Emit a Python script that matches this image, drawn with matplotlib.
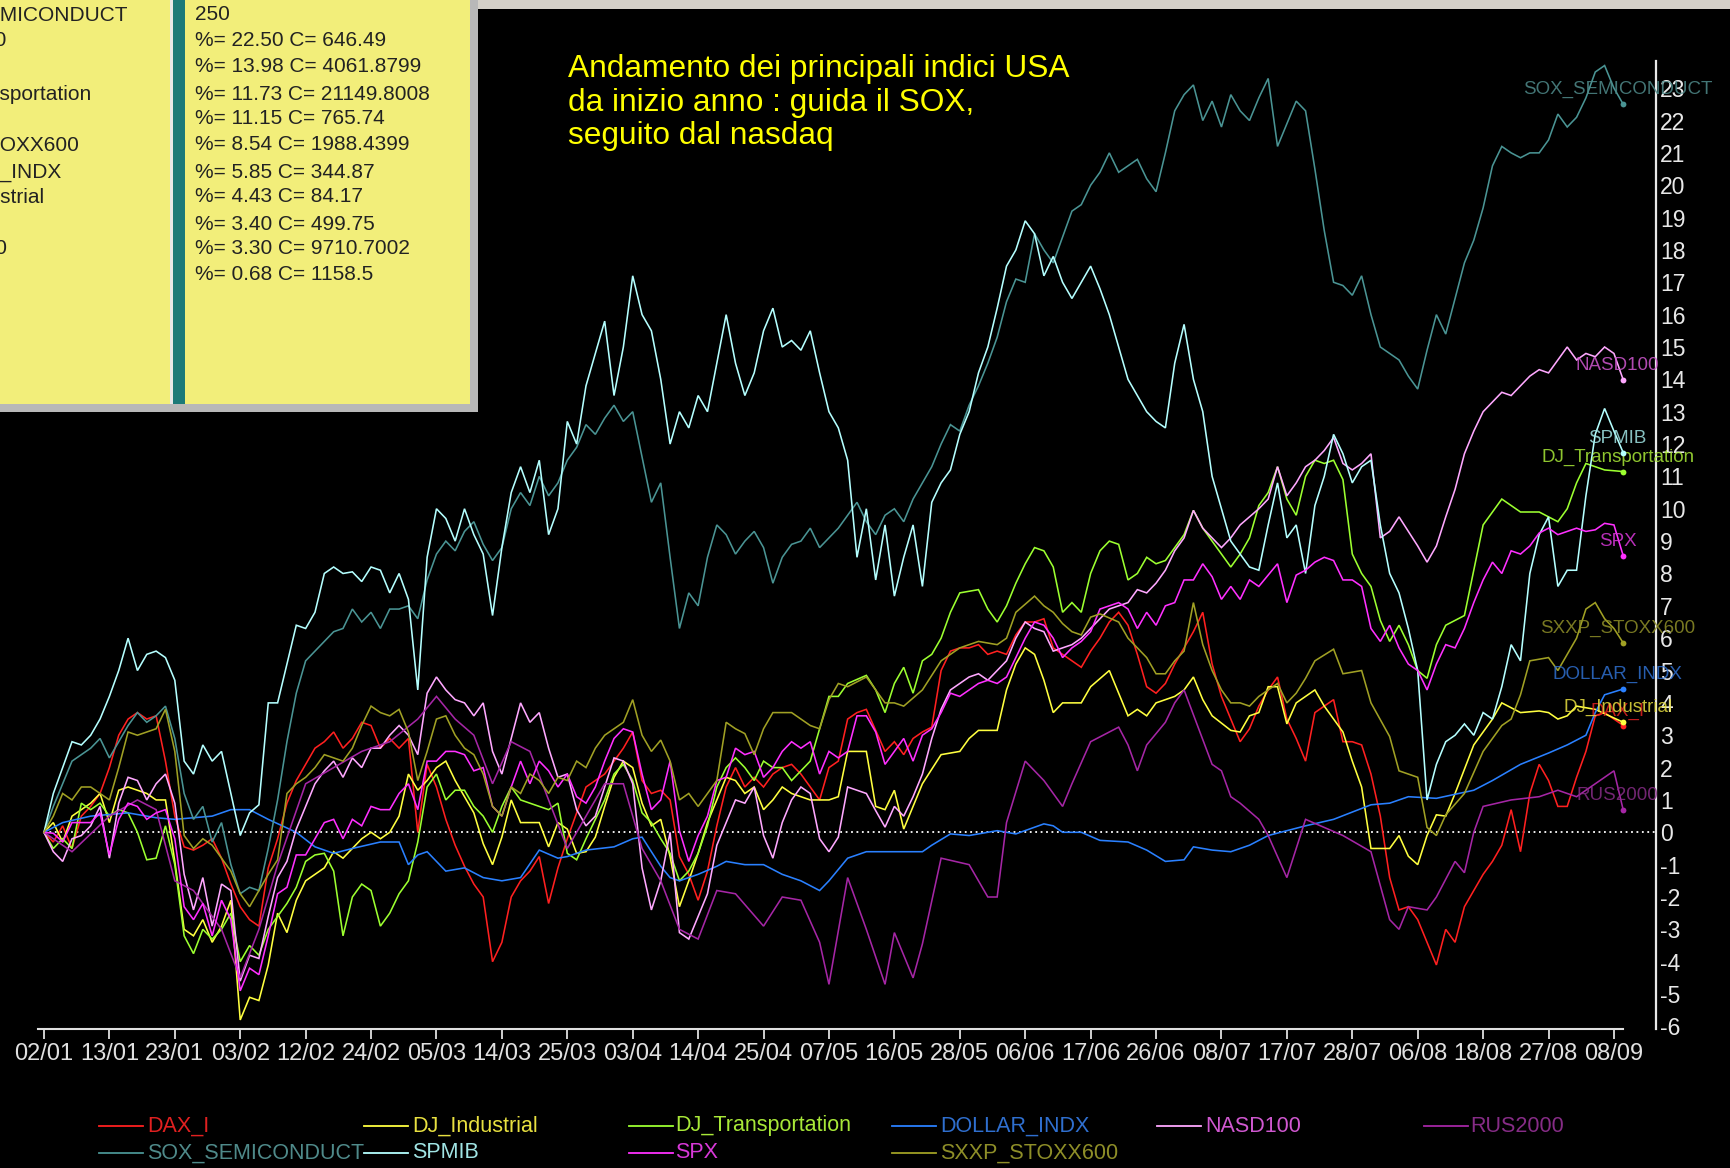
import matplotlib
matplotlib.use('Agg')
import matplotlib.pyplot as plt
from matplotlib.patches import Rectangle
from matplotlib.lines import Line2D
from matplotlib import font_manager as fm

# ---------------- data (trading-day index, % change since 02/01) ----------------
tick_labels = ['02/01', '13/01', '23/01', '03/02', '12/02', '24/02', '05/03', '14/03', '25/03',
               '03/04', '14/04', '25/04', '07/05', '16/05', '28/05', '06/06', '17/06', '26/06',
               '08/07', '17/07', '28/07', '06/08', '18/08', '27/08', '08/09']
tick_step = 7

dax = [(0,0),(1,-0.3),(2,0.2),(3,-0.5),(4,0.5),(5,0.8),(6,1.2),(7,2.0),(8,3.0),(9,3.5),(10,3.7),(11,3.5),(12,3.6),(13,2.2),(14,0.5),(15,-0.45),(16,-0.55),(17,-0.4),(18,-0.2),(19,-0.8),(20,-1.6),(21,-2.3),(22,-2.7),(23,-2.9),(24,-1.1),(25,-0.2),(26,0.9),(27,1.6),(28,2.1),(29,2.6),(30,2.8),(31,3.1),(32,2.6),(33,2.9),(34,3.4),(35,3.3),(36,2.6),(37,2.9),(38,2.6),(39,2.9),(40,0.0),(41,2.1),(42,1.4),(43,0.4),(44,-0.4),(45,-1.05),(46,-1.6),(47,-2.0),(48,-4.0),(49,-3.4),(50,-2.0),(51,-1.5),(52,-1.2),(53,-0.75),(54,-2.2),(55,-1.1),(56,-0.2),(57,0.6),(58,1.4),(59,1.6),(60,1.8),(61,2.2),(62,2.6),(63,3.1),(64,1.6),(65,1.2),(66,1.3),(67,1.0),(68,-0.75),(69,-1.3),(70,-2.1),(71,-1.2),(72,0.2),(73,1.4),(74,2.0),(75,1.4),(76,1.7),(77,1.4),(78,1.8),(79,2.0),(80,2.1),(81,1.8),(82,1.4),(83,1.0),(84,2.0),(85,2.2),(86,3.5),(87,3.7),(88,3.8),(89,3.15),(90,2.5),(91,2.8),(92,2.4),(93,2.9),(94,3.1),(95,3.25),(96,5.0),(97,5.6),(98,5.7),(99,5.7),(100,5.8),(101,5.5),(102,5.6),(103,5.5),(104,6.1),(105,6.5),(106,6.5),(107,6.6),(108,5.7),(109,5.5),(110,5.3),(111,5.1),(112,5.6),(113,6.0),(114,6.5),(115,6.8),(116,6.4),(117,5.5),(118,4.5),(119,4.3),(120,4.6),(121,5.2),(122,5.7),(123,6.2),(124,6.8),(125,5.2),(126,4.2),(127,3.5),(128,2.8),(129,3.2),(130,3.9),(131,4.4),(132,4.8),(133,3.5),(134,2.9),(135,2.2),(136,3.7),(137,3.9),(138,4.1),(139,2.8),(140,2.8),(141,2.7),(142,1.8),(143,0.5),(144,-1.4),(145,-2.4),(146,-2.3),(147,-2.7),(148,-3.4),(149,-4.1),(150,-3.0),(151,-3.4),(152,-2.3),(153,-1.8),(154,-1.3),(155,-0.9),(156,-0.4),(157,0.7),(158,-0.6),(159,1.2),(160,2.1),(161,1.6),(162,0.8),(163,0.8),(164,1.7),(165,2.5),(166,3.6),(167,3.7),(168,3.5),(169,3.30)]

dj_ind = [(0,0),(1,0.3),(2,-0.3),(3,0.5),(4,0.7),(5,0.9),(6,1.2),(7,0.3),(8,1.3),(9,1.4),(10,1.3),(11,1.2),(12,1.0),(13,1.0),(14,-0.9),(15,-3.0),(16,-3.2),(17,-2.7),(18,-3.4),(19,-2.9),(20,-2.1),(21,-5.8),(22,-5.1),(23,-5.2),(24,-4.1),(25,-2.5),(26,-3.1),(27,-2.1),(28,-1.5),(29,-1.3),(30,-1.1),(31,-0.6),(32,-0.8),(33,-0.5),(34,-0.2),(35,0.0),(36,-0.2),(37,0.0),(38,0.5),(39,1.8),(40,1.3),(41,1.6),(42,2.0),(43,2.2),(44,1.6),(46,0.6),(47,-0.35),(48,-1.0),(49,-0.15),(50,1.0),(51,0.3),(53,0.3),(54,-0.45),(55,0.3),(56,0.1),(57,-0.65),(58,-0.6),(59,-0.15),(60,0.8),(61,1.7),(62,2.2),(63,2.0),(64,0.9),(65,0.2),(66,0.4),(67,-0.75),(68,-2.3),(69,-1.5),(70,-0.65),(71,0.3),(72,1.0),(73,1.7),(74,1.6),(75,1.2),(76,1.4),(77,0.7),(78,1.0),(79,1.4),(80,1.2),(82,1.0),(84,1.0),(85,1.1),(86,2.5),(88,2.5),(89,0.8),(90,0.7),(91,1.3),(92,0.1),(93,0.8),(94,1.5),(96,2.4),(98,2.5),(99,2.9),(100,3.15),(102,3.15),(103,4.4),(104,5.2),(105,5.7),(106,5.5),(107,4.7),(108,3.7),(109,4.0),(111,4.0),(112,4.5),(114,5.0),(115,4.3),(116,3.6),(117,3.8),(118,3.6),(119,4.0),(121,4.2),(122,4.4),(123,4.8),(124,4.1),(125,3.6),(127,3.15),(128,3.1),(129,3.6),(130,3.7),(131,4.5),(132,4.5),(133,3.35),(134,4.0),(136,4.4),(137,3.9),(139,3.1),(140,2.2),(141,1.4),(142,-0.5),(144,-0.5),(145,-0.1),(146,-0.74),(147,-1.0),(148,-0.1),(149,0.54),(150,0.5),(151,1.2),(152,1.95),(153,2.7),(155,3.5),(156,4.0),(158,3.7),(160,3.75),(161,3.7),(162,3.5),(163,3.6),(164,3.9),(166,3.8),(169,3.40)]

dj_trans = [(0,0),(1,-0.5),(2,-0.2),(3,-0.5),(4,0.9),(5,0.7),(6,0.9),(7,0.5),(8,0.7),(9,0.6),(10,0.0),(11,-0.85),(12,-0.8),(13,0.2),(14,-1.0),(15,-3.2),(16,-3.75),(17,-3.0),(18,-3.3),(19,-3.0),(20,-2.5),(21,-4.0),(22,-3.5),(23,-3.8),(24,-3.0),(25,-2.6),(26,-2.2),(27,-1.7),(28,-0.9),(29,-0.7),(30,-0.65),(31,-1.2),(32,-3.2),(33,-2.0),(34,-1.6),(35,-1.8),(36,-2.9),(37,-2.5),(38,-1.9),(39,-1.5),(40,-0.3),(41,1.4),(42,1.8),(43,1.0),(44,1.3),(45,1.3),(46,0.8),(47,0.5),(48,0.0),(49,0.8),(50,1.4),(51,1.0),(53,0.8),(54,0.7),(55,0.9),(56,-0.65),(57,-0.85),(58,-0.2),(59,0.4),(60,1.0),(61,1.8),(62,2.1),(63,1.6),(64,0.6),(65,0.3),(66,-0.2),(67,-0.65),(68,-1.5),(69,-1.2),(70,-0.65),(71,0.2),(72,1.4),(73,2.0),(74,2.3),(75,2.0),(76,1.6),(77,2.2),(78,2.0),(79,2.0),(80,1.6),(82,2.2),(83,3.2),(84,4.2),(85,4.2),(86,4.6),(88,4.85),(89,4.4),(90,3.7),(91,4.6),(92,5.1),(93,4.3),(94,5.3),(95,5.5),(96,6.0),(97,6.8),(98,7.4),(100,7.5),(101,6.9),(102,6.5),(103,7.0),(104,7.7),(105,8.3),(106,8.8),(107,8.7),(108,8.2),(109,6.8),(110,7.1),(111,6.8),(112,8.0),(113,8.7),(114,9.0),(115,8.9),(116,7.8),(117,8.0),(118,8.5),(119,8.3),(120,8.4),(121,8.8),(122,9.2),(123,9.95),(124,9.4),(125,9.0),(126,8.6),(127,8.2),(128,8.6),(129,9.1),(130,10.1),(131,10.5),(132,11.3),(133,10.3),(134,9.8),(135,11.0),(136,11.5),(137,11.4),(138,11.5),(139,10.9),(140,8.6),(141,8.0),(142,7.6),(143,6.55),(144,5.9),(145,6.4),(146,5.8),(147,5.0),(148,4.76),(149,5.8),(150,6.4),(152,6.7),(153,8.1),(154,9.5),(155,9.9),(156,10.3),(158,9.9),(160,9.9),(161,9.75),(162,9.6),(163,10.0),(164,10.8),(165,11.4),(167,11.2),(169,11.15)]

dollar = [(0,0),(2,0.3),(5,0.5),(9,0.6),(12,0.45),(14,0.4),(18,0.5),(20,0.7),(22,0.7),(24,0.4),(27,0.0),(29,-0.45),(31,-0.65),(33,-0.5),(36,-0.3),(38,-0.3),(39,-1.0),(40,-0.7),(41,-0.6),(43,-1.2),(45,-1.1),(47,-1.4),(49,-1.5),(51,-1.4),(53,-0.55),(55,-0.8),(56,-0.75),(58,-0.55),(61,-0.45),(63,-0.2),(64,-0.15),(66,-1.05),(67,-1.4),(68,-1.5),(70,-1.3),(72,-1.05),(73,-0.9),(75,-1.0),(77,-1.0),(79,-1.3),(81,-1.5),(83,-1.8),(84,-1.5),(86,-0.8),(88,-0.6),(94,-0.6),(95,-0.4),(97,-0.05),(99,-0.1),(102,0.05),(104,-0.05),(107,0.26),(108,0.2),(109,0.0),(111,0.0),(113,-0.25),(116,-0.3),(118,-0.55),(120,-0.9),(122,-0.85),(123,-0.45),(125,-0.55),(127,-0.6),(129,-0.4),(131,-0.1),(135,0.2),(138,0.4),(142,0.85),(144,0.9),(146,1.1),(149,1.05),(153,1.3),(155,1.6),(158,2.1),(161,2.45),(163,2.7),(165,3.0),(166,3.7),(167,4.25),(169,4.43)]

nasd = [(0,0),(1,-0.6),(2,-0.9),(3,-0.2),(4,-0.1),(5,0.2),(6,0.8),(7,-0.8),(8,0.9),(9,1.7),(10,1.6),(11,1.0),(12,1.5),(13,1.8),(14,0.9),(15,-1.3),(16,-2.4),(17,-1.4),(18,-2.9),(19,-1.6),(20,-1.8),(21,-4.6),(22,-3.8),(23,-3.9),(24,-2.6),(25,-1.4),(26,-0.9),(27,0.1),(28,0.8),(29,1.5),(30,1.9),(31,2.2),(32,1.7),(33,2.3),(34,2.0),(35,2.6),(36,2.6),(37,3.0),(38,3.3),(39,3.0),(40,2.4),(41,4.3),(42,4.8),(43,4.4),(44,4.1),(45,4.0),(46,3.6),(47,4.0),(48,2.5),(49,1.8),(50,2.9),(51,4.0),(52,3.4),(53,3.7),(54,2.6),(55,1.7),(56,1.8),(57,0.7),(58,0.2),(59,0.5),(60,1.4),(61,2.3),(62,2.2),(63,1.5),(64,-1.1),(65,-2.4),(66,-1.5),(67,0.0),(68,-3.1),(69,-3.3),(70,-2.6),(71,-1.9),(72,-0.4),(73,0.3),(74,1.0),(75,0.9),(76,1.4),(77,-0.1),(78,-0.8),(79,0.3),(80,1.0),(81,1.4),(82,1.2),(83,-0.2),(84,-0.6),(85,-0.15),(86,1.4),(87,1.3),(88,1.2),(89,0.67),(90,0.16),(91,0.8),(92,0.5),(93,1.1),(94,1.8),(95,2.9),(96,3.8),(97,4.4),(98,4.6),(99,4.8),(100,4.9),(101,4.7),(102,5.0),(103,5.3),(104,6.0),(105,6.5),(106,6.3),(107,6.2),(108,5.6),(109,5.7),(110,5.8),(111,6.0),(112,6.3),(113,6.6),(114,6.9),(115,7.0),(116,7.1),(117,7.5),(118,7.4),(119,7.7),(120,8.1),(121,8.7),(122,9.1),(123,9.95),(124,9.4),(125,9.1),(126,8.8),(127,9.1),(128,9.5),(129,9.75),(130,10.0),(131,10.3),(132,11.3),(133,10.4),(134,10.8),(135,11.3),(136,11.5),(137,11.8),(138,12.2),(139,11.4),(140,11.2),(141,11.4),(142,11.7),(143,9.1),(144,9.3),(145,9.75),(146,9.3),(147,8.85),(148,8.35),(149,8.85),(150,9.75),(151,10.6),(152,11.7),(153,12.4),(154,13.0),(155,13.3),(156,13.6),(157,13.5),(158,13.8),(159,14.1),(160,14.3),(161,14.2),(162,14.6),(163,15.0),(164,14.6),(165,14.8),(166,14.7),(167,15.0),(168,14.8),(169,13.98)]

rus = [(0,0),(3,-0.6),(7,0.5),(10,1.0),(12,0.7),(14,-1.5),(16,-1.8),(19,-3.0),(21,-4.5),(23,-3.0),(25,-1.0),(28,1.5),(31,2.0),(34,2.5),(37,2.8),(40,3.5),(42,4.2),(44,3.5),(46,3.0),(48,1.5),(50,2.8),(52,2.5),(54,1.0),(56,-0.5),(58,0.5),(60,1.5),(62,1.5),(64,-0.5),(66,-1.5),(68,-3.0),(70,-3.3),(72,-1.8),(74,-1.9),(77,-2.9),(79,-2.0),(81,-2.1),(83,-3.4),(84,-4.7),(86,-1.4),(88,-3.0),(90,-4.7),(91,-3.1),(93,-4.5),(94,-3.45),(96,-0.8),(99,-1.0),(101,-2.0),(102,-2.0),(103,0.3),(105,2.2),(107,1.6),(109,0.8),(110,1.5),(112,2.8),(115,3.25),(116,2.7),(117,1.9),(118,2.7),(120,3.4),(121,4.0),(122,4.4),(125,2.1),(126,1.9),(127,1.1),(128,0.9),(130,0.4),(131,-0.1),(133,-1.4),(135,0.4),(139,-0.1),(142,-0.6),(144,-2.7),(145,-3.0),(146,-2.3),(148,-2.4),(149,-2.0),(151,-0.9),(152,-1.25),(153,0.0),(154,0.8),(157,1.0),(160,1.1),(162,1.3),(164,1.1),(166,1.5),(168,1.9),(169,0.68)]

sox = [(0,0),(1,0.8),(2,1.5),(3,2.2),(5,2.6),(6,2.9),(7,2.3),(8,2.8),(9,3.3),(10,3.7),(11,3.4),(12,3.6),(13,3.9),(14,2.9),(15,1.2),(16,0.4),(17,0.8),(18,-0.3),(19,0.3),(20,-1.0),(21,-1.9),(22,-1.7),(23,-1.8),(24,-0.5),(25,1.0),(26,2.8),(27,4.3),(28,5.3),(29,5.6),(30,5.9),(31,6.2),(32,6.3),(33,6.9),(34,6.5),(35,6.8),(36,6.3),(37,6.9),(38,6.9),(39,7.0),(40,6.6),(41,7.8),(42,8.6),(43,9.0),(44,8.7),(45,9.3),(46,9.6),(47,8.9),(48,8.4),(49,8.8),(50,10.0),(51,10.5),(52,10.1),(53,11.0),(54,10.4),(55,10.8),(56,11.5),(57,11.9),(58,12.6),(59,12.3),(60,12.8),(61,13.2),(62,12.7),(63,13.0),(64,11.6),(65,10.2),(66,10.8),(67,8.5),(68,6.3),(69,7.4),(70,7.0),(71,8.5),(72,9.5),(73,9.2),(74,8.6),(75,9.0),(76,9.3),(77,8.8),(78,7.7),(79,8.5),(80,8.9),(81,9.0),(82,9.4),(83,8.8),(84,9.1),(85,9.4),(86,9.8),(87,10.2),(88,9.6),(89,9.2),(90,9.8),(91,10.0),(92,9.6),(93,10.3),(94,10.8),(95,11.3),(96,12.0),(97,12.6),(98,12.4),(99,13.2),(100,13.8),(101,14.5),(102,15.3),(103,16.4),(104,17.1),(105,17.0),(106,18.5),(107,18.0),(108,17.6),(109,18.4),(110,19.2),(111,19.4),(112,20.0),(113,20.4),(114,21.0),(115,20.4),(116,20.6),(117,20.8),(118,20.2),(119,19.8),(120,21.0),(121,22.3),(122,22.8),(123,23.1),(124,22.0),(125,22.6),(126,21.8),(127,22.8),(128,22.3),(129,22.0),(130,22.7),(131,23.3),(132,21.2),(133,21.9),(134,22.6),(135,22.3),(136,20.5),(137,18.6),(138,17.0),(139,16.9),(140,16.6),(141,17.2),(142,16.0),(143,15.0),(144,14.8),(145,14.6),(146,14.1),(147,13.7),(148,14.9),(149,16.0),(150,15.4),(151,16.5),(152,17.6),(153,18.3),(154,19.3),(155,20.6),(156,21.2),(157,21.0),(158,20.85),(159,21.0),(160,21.0),(161,21.4),(162,22.2),(163,21.8),(164,22.1),(165,22.7),(166,23.5),(167,23.7),(168,23.0),(169,22.50)]

spmib = [(0,0),(1,1.2),(2,2.0),(3,2.8),(4,2.7),(5,3.0),(6,3.5),(7,4.2),(8,5.0),(9,6.0),(10,5.0),(11,5.5),(12,5.6),(13,5.4),(14,4.7),(15,2.2),(16,1.8),(17,2.7),(18,2.2),(19,2.5),(20,1.2),(21,-0.1),(22,0.6),(23,0.85),(24,4.0),(25,4.0),(26,5.2),(27,6.4),(28,6.3),(29,6.8),(30,8.0),(31,8.2),(32,8.0),(33,8.05),(34,7.75),(35,8.2),(36,8.1),(37,7.4),(38,8.0),(39,7.2),(40,4.4),(41,8.5),(42,10.0),(43,9.7),(44,9.0),(45,10.0),(46,9.2),(47,8.6),(48,6.7),(49,8.8),(50,10.5),(51,11.3),(52,10.5),(53,11.5),(54,9.2),(55,10.0),(56,12.7),(57,12.0),(58,13.8),(59,14.8),(60,15.8),(61,13.5),(62,15.0),(63,17.2),(64,16.0),(65,15.5),(66,14.0),(67,12.0),(68,13.0),(69,12.5),(70,13.5),(71,13.0),(72,14.5),(73,16.0),(74,14.5),(75,13.5),(76,14.2),(77,15.5),(78,16.2),(79,15.0),(80,15.2),(81,14.9),(82,15.5),(83,14.2),(84,13.0),(85,12.5),(86,11.5),(87,8.5),(88,10.0),(89,7.8),(90,9.5),(91,7.3),(92,8.5),(93,9.5),(94,7.6),(95,10.2),(96,10.8),(97,11.2),(98,12.3),(99,13.0),(100,14.2),(101,15.0),(102,16.2),(103,17.5),(104,18.0),(105,18.9),(106,18.5),(107,17.2),(108,17.8),(109,17.0),(110,16.5),(111,17.0),(112,17.5),(113,16.8),(114,16.0),(115,15.0),(116,14.0),(117,13.5),(118,13.0),(119,12.7),(120,12.5),(121,14.5),(122,15.7),(123,14.0),(124,13.0),(125,11.0),(126,10.0),(127,9.0),(128,8.6),(129,8.2),(130,8.1),(131,9.5),(132,10.8),(133,9.1),(134,9.5),(135,8.0),(136,10.1),(137,11.0),(138,12.3),(139,11.7),(140,10.8),(141,11.3),(142,11.5),(143,9.5),(144,8.0),(145,7.4),(146,6.3),(147,5.0),(148,1.0),(149,2.1),(150,2.8),(151,3.0),(152,3.35),(153,3.0),(154,3.7),(155,3.5),(156,4.5),(157,5.8),(158,5.3),(159,8.0),(160,9.2),(161,9.75),(162,7.6),(163,8.1),(164,8.1),(165,10.4),(166,12.3),(167,13.1),(168,12.4),(169,11.73)]

spx = [(0,0),(1,-0.03),(2,-0.3),(3,0.3),(4,0.3),(5,0.3),(6,0.6),(7,-0.7),(8,0.4),(9,0.9),(10,0.8),(11,0.4),(12,0.6),(13,0.7),(14,-0.2),(15,-2.3),(16,-2.7),(17,-2.2),(18,-3.2),(19,-2.1),(20,-2.7),(21,-4.9),(22,-4.2),(23,-4.4),(24,-3.2),(25,-1.9),(26,-1.7),(27,-0.7),(28,-0.7),(29,-0.2),(30,0.3),(31,0.4),(32,-0.2),(33,0.4),(34,0.2),(35,0.8),(36,0.7),(37,0.7),(38,1.2),(39,1.5),(40,0.7),(41,2.2),(42,2.2),(43,2.5),(44,2.5),(45,2.4),(46,1.9),(47,2.0),(48,0.8),(49,0.5),(50,1.4),(51,2.2),(52,1.5),(53,2.2),(54,1.9),(55,1.4),(56,1.8),(57,1.1),(58,0.9),(59,1.4),(60,2.2),(61,2.9),(62,3.2),(63,3.1),(64,1.8),(65,0.7),(66,1.0),(67,2.2),(68,0.05),(69,-0.9),(70,-0.1),(71,0.5),(72,1.6),(73,1.7),(74,2.6),(75,2.4),(76,2.5),(77,1.7),(78,2.0),(79,2.5),(80,2.8),(81,2.6),(82,2.8),(83,1.8),(84,2.5),(85,2.3),(86,2.5),(87,3.6),(88,3.6),(89,3.1),(90,2.1),(91,2.5),(92,2.9),(93,2.2),(94,3.0),(95,3.2),(96,3.7),(97,4.3),(98,4.2),(99,4.4),(100,4.6),(101,4.7),(102,4.6),(103,4.8),(104,5.4),(105,6.0),(106,6.5),(107,6.4),(108,6.0),(109,5.4),(110,5.7),(111,5.9),(112,6.2),(113,6.9),(114,7.0),(115,7.1),(116,6.9),(117,6.3),(118,6.8),(119,6.4),(120,7.0),(121,7.1),(122,7.8),(123,7.8),(124,8.3),(125,7.9),(126,7.2),(127,7.6),(128,7.2),(129,7.8),(130,7.6),(131,7.95),(132,8.3),(133,7.1),(134,7.95),(135,8.1),(136,8.35),(137,8.5),(138,8.4),(139,7.8),(140,7.8),(141,7.6),(142,6.3),(143,5.9),(144,6.4),(145,5.7),(146,5.2),(147,5.0),(148,4.4),(149,5.2),(150,5.8),(151,5.7),(152,6.3),(153,7.1),(154,7.8),(155,8.35),(156,8.0),(157,8.7),(158,8.6),(159,8.85),(160,9.25),(161,9.4),(162,9.2),(163,9.3),(164,9.4),(165,9.3),(166,9.35),(167,9.55),(168,9.5),(169,8.54)]

sxxp = [(0,0),(1,0.5),(2,1.2),(3,1.0),(4,1.4),(5,1.4),(6,1.2),(7,1.0),(8,2.0),(9,3.1),(10,3.0),(11,3.1),(12,3.2),(13,3.8),(14,2.5),(15,-0.1),(16,-0.5),(17,-0.2),(18,-0.4),(19,-0.8),(20,-1.2),(21,-1.9),(22,-2.3),(23,-1.8),(24,-1.3),(25,-0.85),(26,1.2),(27,1.5),(28,1.7),(29,2.0),(30,2.4),(31,2.3),(32,2.2),(33,2.6),(34,3.3),(35,3.9),(36,3.7),(37,3.6),(38,3.8),(39,3.1),(40,1.6),(41,2.5),(42,3.5),(43,3.6),(44,3.0),(45,2.6),(46,2.4),(47,1.8),(48,0.8),(49,0.5),(50,1.4),(51,1.2),(52,1.8),(53,1.6),(54,1.2),(55,1.7),(56,1.6),(57,2.2),(58,2.0),(59,2.6),(60,3.0),(62,3.4),(63,4.1),(64,3.0),(65,2.5),(66,2.85),(67,2.2),(68,1.0),(69,1.2),(70,0.8),(71,1.2),(72,1.6),(73,3.4),(74,3.2),(75,3.05),(76,2.4),(77,3.2),(78,3.7),(79,3.7),(80,3.7),(81,3.5),(82,3.3),(83,3.2),(84,4.1),(85,4.6),(86,4.5),(88,4.8),(89,4.4),(90,4.0),(91,4.0),(92,3.9),(94,4.4),(96,5.3),(98,5.7),(99,5.8),(100,5.9),(102,5.8),(103,6.0),(104,6.8),(106,7.3),(107,7.0),(108,6.8),(109,6.45),(110,6.2),(111,6.1),(112,6.65),(113,6.75),(115,6.5),(116,6.0),(117,5.7),(118,5.4),(119,4.9),(120,4.9),(121,5.3),(122,5.6),(123,7.1),(124,5.8),(125,5.0),(126,4.4),(127,4.0),(128,4.0),(129,3.9),(130,4.2),(132,4.6),(133,4.0),(134,4.3),(135,4.76),(136,5.3),(138,5.66),(139,4.9),(141,5.0),(142,4.0),(144,2.96),(145,1.9),(147,1.7),(148,0.15),(149,-0.1),(150,0.54),(152,1.2),(154,2.5),(156,3.3),(157,3.5),(158,4.25),(159,5.3),(161,5.4),(162,5.0),(164,6.0),(165,6.9),(166,7.1),(167,6.6),(168,6.3),(169,5.85)]

names = ['DAX_I', 'DJ_Industrial', 'DJ_Transportation', 'DOLLAR_INDX', 'NASD100',
         'RUS2000', 'SOX_SEMICONDUCT', 'SPMIB', 'SPX', 'SXXP_STOXX600']
line_colors = ['#ff2020', '#ffff40', '#9cff30', '#2a80ff', '#ffa8ff',
               '#a526a5', '#4a9494', '#b4ffff', '#ff30ff', '#a0a024']
label_colors = ['#e02020', '#e8e040', '#a8e838', '#2f6fcf', '#d058d0',
                '#862c86', '#4f8a8a', '#a0e4e4', '#d838d8', '#8e8e28']
series_data = [dax, dj_ind, dj_trans, dollar, nasd, rus, sox, spmib, spx, sxxp]

# info-box texts
box_left = ['SOX_SEMICONDUCT', 'NASD100', 'SPMIB', 'DJ_Transportation', 'SPX',
            'SXXP_STOXX600', 'DOLLAR_INDX', 'DJ_Industrial', 'DAX_I', 'RUS2000']
box_right = ['250', '%= 22.50 C= 646.49', '%= 13.98 C= 4061.8799', '%= 11.73 C= 21149.8008',
             '%= 11.15 C= 765.74', '%= 8.54 C= 1988.4399', '%= 5.85 C= 344.87',
             '%= 4.43 C= 84.17', '%= 3.40 C= 499.75', '%= 3.30 C= 9710.7002', '%= 0.68 C= 1158.5']
note = 'Andamento dei principali indici USA\nda inizio anno : guida il SOX,\nseguito dal nasdaq'

# ---------------- fonts ----------------
avail = {f.name for f in fm.fontManager.ttflist}
narrow = 'Liberation Sans Narrow' if 'Liberation Sans Narrow' in avail else 'Liberation Sans'
sans = 'Liberation Sans'

# ---------------- figure ----------------
W, H = 1731, 1168
fig = plt.figure(figsize=(W / 100, H / 100), dpi=100, facecolor='black')

def fx(px):
    return px / W

def fy(py):
    return 1 - py / H

ax = fig.add_axes([fx(35), fy(1029), fx(1656) - fx(35), fy(61) - fy(1029)], facecolor='black')
ax.set_xlim(-0.96, 172.5)
ax.set_ylim(-6.08, 23.84)

for pts, col in zip(series_data, line_colors):
    d = [p[0] for p in pts]
    v = [p[1] for p in pts]
    ax.plot(d, v, color=col, lw=1.15, solid_joinstyle='miter', zorder=2)

# zero dotted line
ax.axhline(0, xmin=(0 + 0.96) / (172.5 + 0.96), xmax=1, color='white', lw=1.3,
           ls=(0, (1, 2)), zorder=1)

# end-of-series markers and names
for name, pts, col, lcol in zip(names, series_data, line_colors, label_colors):
    d, v = pts[-1]
    ax.plot([d], [v], 'o', ms=4.2, color=col, mec='none', zorder=4)
    ax.text(d - 0.6, v + 0.45, name, ha='center', va='center', color=lcol, alpha=0.85,
            fontsize=13.5, family=narrow, zorder=3)

# axes styling
for s in ['top', 'left']:
    ax.spines[s].set_visible(False)
ax.spines['right'].set_color('#e8e8e8')
ax.spines['right'].set_linewidth(1.6)
ax.spines['bottom'].set_color('#e0e0e0')
ax.spines['bottom'].set_linewidth(1.5)
ax.spines['bottom'].set_bounds(-0.6, 169.0)

ax.set_xticks(range(0, tick_step * (len(tick_labels) - 1) + 1, tick_step))
ax.set_xticklabels(tick_labels, family=sans)
ax.tick_params(axis='x', direction='out', length=7, width=1.3, colors='#e0e0e0',
               labelsize=17, pad=3)
ax.yaxis.tick_right()
ax.set_yticks(range(-6, 24))
ax.set_yticklabels([str(t) for t in range(-6, 24)], family=sans)
ax.tick_params(axis='y', length=0, pad=3, labelcolor='#e8e8e8', labelsize=16.5)

# annotation
fig.text(fx(568), fy(54), note, color='#ffff00', fontsize=22.8, family=sans,
         ha='left', va='top', linespacing=1.16)

# ---------------- info box (top-left) ----------------
fig.add_artist(Rectangle((0, fy(412)), fx(478), fy(0) - fy(412), transform=fig.transFigure,
                         facecolor='#b8b8b8', edgecolor='none', zorder=5))
fig.add_artist(Rectangle((0, fy(404)), fx(470), fy(0) - fy(404), transform=fig.transFigure,
                         facecolor='#f2ee7a', edgecolor='none', zorder=6))
fig.add_artist(Rectangle((fx(170), fy(404)), fx(3), fy(0) - fy(404), transform=fig.transFigure,
                         facecolor='#e8e8e8', edgecolor='none', zorder=7))
fig.add_artist(Rectangle((fx(173), fy(404)), fx(12), fy(0) - fy(404), transform=fig.transFigure,
                         facecolor='#1c7a78', edgecolor='none', zorder=7))
# grey strip at the top
fig.add_artist(Rectangle((fx(478), fy(9)), 1 - fx(478), fy(0) - fy(9), transform=fig.transFigure,
                         facecolor='#d4d0c8', edgecolor='none', zorder=5))

row_y = [13, 38, 65, 92, 117, 143, 170, 195, 222, 247, 273]
for txt, y in zip(box_right, row_y):
    fig.text(fx(195), fy(y), txt, color='#222222', fontsize=15, family=sans,
             ha='left', va='center_baseline', zorder=8)
left_end = [128, 7, -10, 92, -10, 79, 61, 44, -10, 7]
for txt, y, xe in zip(box_left, row_y[:10], left_end):
    fig.text(fx(xe), fy(y), txt, color='#222222', fontsize=15, family=sans,
             ha='right', va='center_baseline', zorder=8)

# ---------------- legend (bottom) ----------------
leg_line_x = [99, 364, 629, 892, 1157, 1424]
leg_text_x = [147, 412, 675, 940, 1205, 1470]
leg_row_y = [1126, 1153]
for i, (name, col, lcol) in enumerate(zip(names, line_colors, label_colors)):
    r, c = divmod(i, 6)
    y = leg_row_y[r]
    fig.add_artist(Line2D([fx(leg_line_x[c]), fx(leg_line_x[c] + 44)], [fy(y), fy(y)],
                          transform=fig.transFigure, color=col, lw=1.3))
    fig.text(fx(leg_text_x[c]), fy(y), name, color=lcol, fontsize=15.5, family=narrow,
             ha='left', va='center')

fig.savefig('out.png', dpi=100, facecolor='black')
